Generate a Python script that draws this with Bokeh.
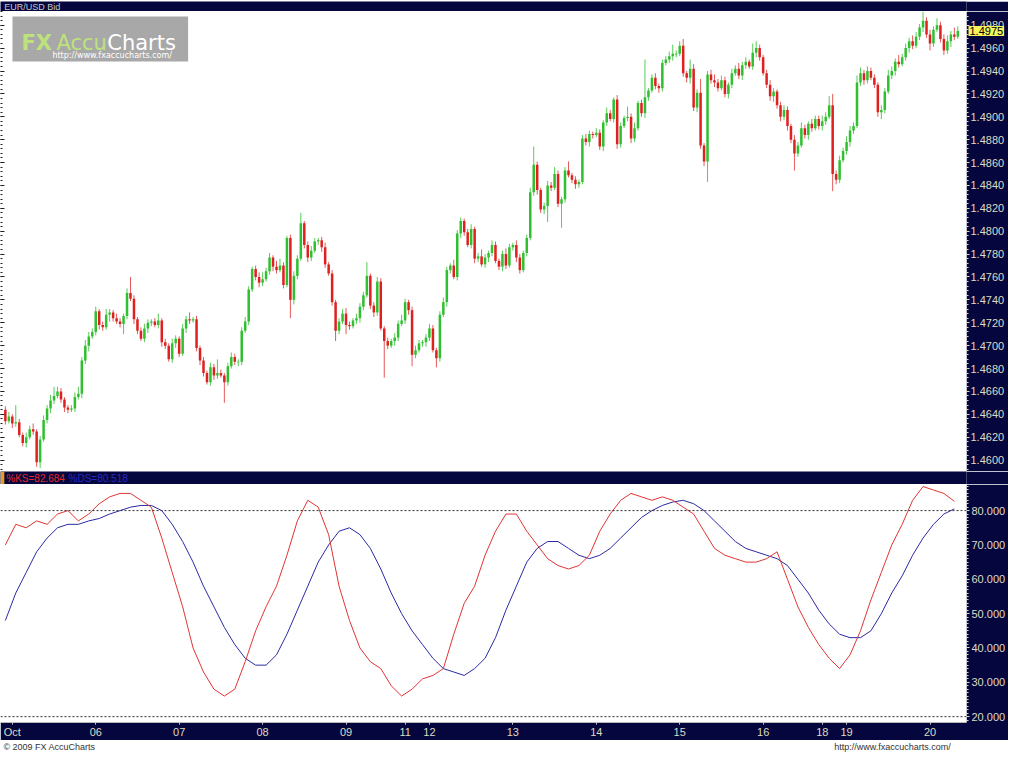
import numpy as np
from bokeh.plotting import figure
from bokeh.layouts import column
from bokeh.models import (Range1d, SingleIntervalTicker, FixedTicker, NumeralTickFormatter,
                          Span, Label, BoxAnnotation, ColumnDataSource, LinearAxis,
                          CustomJSTickFormatter)
from bokeh.core.properties import value
from bokeh.embed import file_html
from bokeh.resources import INLINE

# ---------------- data ----------------
symbol = "EUR/USD Bid"
base_price = 1.4600
first_open_pips = 44
# hourly closes, in pips above 1.4600
closes_pips = [
    34, 38, 32, 33, 22, 15, 20, 27, 25, -2, 18, 35, 45, 52, 56, 60, 53, 46, 44, 45, 55, 58, 87, 100, 108,
    112, 130, 118, 116, 127, 129, 124, 121, 119, 126, 146, 141, 123, 113, 106, 115, 120, 121, 118, 122, 103, 100, 88, 102, 106,
    93, 115, 123, 122, 123, 98, 87, 76, 68, 81, 74, 76, 74, 68, 82, 90, 86, 86, 113, 121, 149, 167, 160, 155, 158,
    165, 177, 169, 166, 170, 153, 194, 140, 161, 176, 207, 188, 177, 183, 191, 192, 186, 171, 163, 138, 113, 121, 128, 118, 117,
    122, 124, 134, 144, 161, 135, 129, 156, 115, 104, 100, 104, 107, 119, 122, 138, 131, 92, 96, 102, 103, 107, 115, 96, 89,
    127, 138, 166, 170, 160, 198, 209, 199, 188, 202, 176, 178, 171, 177, 181, 188, 174, 169, 180, 170, 186, 188, 177, 166, 181,
    194, 234, 258, 236, 219, 222, 240, 238, 250, 224, 228, 253, 249, 245, 241, 243, 281, 278, 285, 284, 286, 274, 295, 303, 298,
    315, 276, 292, 299, 300, 281, 290, 312, 303, 317, 323, 334, 327, 325, 347, 350, 353, 355, 355, 362, 338, 334, 342, 308, 321,
    275, 261, 337, 332, 330, 325, 332, 320, 328, 338, 342, 336, 345, 348, 344, 356, 360, 352, 338, 328, 318, 322, 310, 300, 306,
    292, 280, 268, 275, 290, 284, 294, 290, 298, 292, 296, 300, 310, 250, 245, 262, 270, 278, 288, 292, 330, 338, 332, 340, 334,
    328, 304, 306, 322, 336, 340, 348, 346, 352, 360, 366, 362, 370, 378, 384, 372, 364, 376, 380, 368, 358, 366, 372, 370, 375,
]
up_wick_pips = [
    3, 4, 2, 15, 3, 2, 4, 3, 5, 2, 3, 4, 3, 5, 8, 4, 3, 2, 2, 3, 4, 6, 3, 5, 4,
    3, 4, 2, 3, 5, 3, 2, 4, 3, 2, 4, 14, 3, 2, 3, 4, 3, 2, 3, 6, 2, 3, 2, 4, 3,
    2, 4, 3, 6, 2, 3, 2, 3, 2, 4, 3, 12, 3, 2, 3, 4, 3, 2, 3, 4, 3, 2, 3, 4, 6,
    3, 4, 2, 5, 6, 3, 2, 3, 4, 3, 9, 2, 3, 4, 3, 2, 3, 4, 2, 3, 2, 3, 4, 5, 3,
    2, 4, 3, 3, 12, 2, 3, 4, 3, 2, 3, 2, 4, 3, 5, 3, 2, 3, 4, 3, 2, 3, 4, 3, 2,
    3, 4, 3, 2, 5, 3, 3, 2, 3, 4, 2, 3, 6, 3, 2, 4, 3, 2, 3, 5, 3, 2, 4, 3, 2,
    3, 4, 16, 3, 2, 3, 4, 3, 6, 3, 2, 3, 8, 2, 3, 2, 3, 4, 3, 2, 4, 3, 2, 5, 3,
    2, 4, 3, 2, 9, 3, 5, 2, 3, 33, 2, 3, 4, 2, 3, 3, 4, 8, 3, 4, 6, 2, 8, 4, 3,
    12, 2, 3, 4, 5, 3, 4, 3, 2, 4, 3, 5, 3, 4, 2, 8, 6, 3, 2, 3, 4, 3, 2, 3, 4,
    3, 2, 4, 3, 5, 3, 2, 4, 3, 3, 5, 4, 8, 10, 3, 4, 3, 5, 4, 3, 6, 5, 3, 4, 3,
    3, 2, 4, 3, 5, 4, 3, 6, 3, 4, 3, 5, 4, 3, 8, 3, 4, 3, 6, 3, 4, 5, 3, 6, 4,
]
down_wick_pips = [
    3, 2, 4, 3, 2, 3, 4, 2, 3, 4, 5, 2, 3, 4, 3, 2, 3, 4, 3, 2, 3, 2, 4, 3, 5,
    2, 3, 4, 3, 2, 6, 3, 2, 3, 9, 3, 2, 4, 3, 2, 3, 4, 3, 2, 3, 4, 3, 2, 3, 4,
    3, 2, 4, 3, 2, 3, 4, 3, 2, 3, 4, 3, 2, 18, 3, 2, 3, 4, 3, 2, 3, 2, 3, 4, 3,
    2, 3, 4, 3, 2, 3, 2, 16, 4, 3, 2, 3, 4, 3, 2, 3, 4, 3, 2, 3, 9, 3, 2, 8, 3,
    2, 3, 4, 3, 2, 3, 4, 3, 2, 32, 3, 2, 4, 3, 2, 3, 4, 10, 3, 2, 3, 4, 3, 2, 8,
    3, 2, 4, 3, 2, 3, 4, 3, 2, 3, 4, 3, 2, 3, 4, 3, 2, 3, 4, 3, 2, 3, 4, 3, 2,
    3, 2, 3, 4, 3, 4, 14, 3, 2, 3, 21, 3, 2, 3, 4, 3, 2, 3, 4, 3, 2, 3, 4, 3, 2,
    3, 4, 3, 2, 3, 4, 3, 2, 3, 4, 3, 2, 3, 4, 3, 2, 3, 4, 3, 2, 3, 4, 5, 3, 4,
    3, 4, 18, 3, 4, 3, 2, 3, 4, 3, 2, 3, 4, 3, 2, 3, 4, 3, 2, 3, 4, 5, 3, 4, 3,
    4, 3, 15, 3, 2, 3, 4, 3, 2, 3, 4, 3, 2, 15, 4, 3, 2, 3, 4, 3, 2, 3, 4, 3, 2,
    3, 4, 6, 3, 2, 3, 4, 3, 2, 3, 4, 3, 2, 3, 4, 3, 6, 3, 2, 3, 4, 3, 5, 3, 2,
]
# slow stochastic, read every 3rd bar
stoch_step = 3
k_values = [
    70, 76, 75, 77, 76, 79, 80, 77, 79, 82,
    84, 85, 85, 83, 81, 72, 62, 52, 40, 33,
    28, 26, 28, 36, 45, 52, 58, 67, 77, 83,
    81, 73, 58, 48, 40, 36, 34, 29, 26, 28,
    31, 32, 34, 44, 53, 58, 67, 74, 79, 79,
    74, 70, 66, 64, 63, 64, 67, 74, 79, 83,
    85, 84, 83, 84, 83, 81, 79, 74, 69, 67,
    66, 65, 65, 66, 68, 60, 52, 46, 41, 37,
    34, 38, 45, 54, 62, 70, 76, 83, 87, 86,
    85, 82.7,
]
d_values = [
    48, 56, 62, 68, 72, 75, 76, 76, 77, 77.7,
    79, 80, 81, 81.5, 81.5, 80, 76, 71, 65, 58,
    52, 46, 41, 37, 35, 35, 38, 44, 51, 58,
    65, 70, 74, 75, 73, 69, 63, 56, 50, 45,
    41, 37, 34, 33, 32, 34, 37, 43, 51, 58,
    65, 69, 71, 71, 69, 67, 66, 67, 69, 72,
    75, 78, 80, 81.5, 82.5, 83, 82, 80, 77, 74,
    71, 69, 68, 67, 66, 64, 60, 56, 51, 47,
    44, 43, 43, 45, 50, 56, 61, 67, 72, 76,
    79, 80.5,
]
k_label = "%KS=82.684"
d_label = "%DS=80.518"
last_price = 1.4975
last_price_label = "1.4975"
day_tick_pos = [2, 26, 50, 74, 98, 115, 122, 146, 170, 194, 218, 235, 242, 266]
day_tick_labels = ["Oct", "06", "07", "08", "09", "11", "12", "13", "14", "15", "16", "18", "19", "20"]
stoch_levels = [80, 20]

# ---------------- style ----------------
NAVY = "#06063e"
AXIS_TXT = "#dcdcc2"
GREEN = "#2fbf2f"
RED = "#e01f1f"
GREEN_W = "#55cc55"
RED_W = "#e45a5a"
FONT = "Liberation Sans"
W = 1008
AXW = 40
XR = (-1.4, 276.5)
YR = (1.4590, 1.4992)
TITLE_H = 11
MAIN_H = 460
BAND_H = 13
STO_H = 256
FOOT_H = 12
FRAME_W = W - AXW
UNIT = (XR[1] - XR[0]) / FRAME_W


def xpx(px):
    return XR[0] + px * UNIT


def ypx(px):
    return YR[1] - px * (YR[1] - YR[0]) / MAIN_H


n = len(closes_pips)
idx = np.arange(n)
close = base_price + np.array(closes_pips) / 10000.0
open_ = np.concatenate([[base_price + first_open_pips / 10000.0], close[:-1]])
top = np.maximum(open_, close)
bot = np.minimum(np.minimum(open_, close), top - 0.00005)
high = top + np.array(up_wick_pips) / 10000.0
low = np.minimum(open_, close) - np.array(down_wick_pips) / 10000.0
rising = close >= open_
src = ColumnDataSource(dict(
    x=idx, top=top, bot=bot, high=high, low=low,
    color=np.where(rising, GREEN, RED), wcolor=np.where(rising, GREEN_W, RED_W)))

# ---------------- title band ----------------
t = figure(width=W, height=TITLE_H, x_range=Range1d(0, W), y_range=Range1d(0, TITLE_H),
           toolbar_location=None, output_backend="svg", min_border=0,
           x_axis_type=None, y_axis_type=None, background_fill_color=NAVY,
           border_fill_color=NAVY, outline_line_color=None)
t.text(x=[4], y=[TITLE_H / 2], text=[symbol], text_font=value(FONT), text_font_size="9px",
       text_color="#c8c8c8", text_baseline="middle")

# ---------------- price panel ----------------
p = figure(width=W, height=MAIN_H, x_range=Range1d(*XR), y_range=Range1d(*YR),
           toolbar_location=None, output_backend="svg",
           min_border=0, min_border_right=AXW, border_fill_color=NAVY,
           background_fill_color="white", outline_line_color=None,
           x_axis_type=None, y_axis_type=None)
p.segment(x0="x", y0="low", x1="x", y1="high", line_color="wcolor", line_width=1, source=src)
p.vbar(x="x", width=0.72, top="top", bottom="bot", fill_color="color", line_color=None, source=src)

price_ticker = SingleIntervalTicker(interval=0.002, num_minor_ticks=5)
blank = CustomJSTickFormatter(code="return ''")

# right side, from the frame outwards: ticks, last-price marker, tick labels
tick_ax = LinearAxis(ticker=price_ticker, formatter=blank, axis_line_color=None,
                     major_tick_in=0, major_tick_out=3, minor_tick_in=0, minor_tick_out=2,
                     major_tick_line_color=AXIS_TXT, minor_tick_line_color=AXIS_TXT,
                     major_label_standoff=0)
p.add_layout(tick_ax, "right")
mk = dict(x=XR[1], y=last_price, x_offset=2, text=last_price_label,
          text_font=FONT, text_font_size="11px", text_color="black",
          text_baseline="middle", text_align="left",
          background_fill_color="#f4f45c", background_fill_alpha=1.0)
if "padding" in Label.properties():
    mk["padding"] = 1
p.add_layout(Label(**mk), "right")
lab_ax = LinearAxis(ticker=price_ticker, formatter=NumeralTickFormatter(format="0.0000"),
                    axis_line_color=None, major_tick_in=0, major_tick_out=0,
                    minor_tick_in=0, minor_tick_out=0, major_label_standoff=-35,
                    major_label_text_color=AXIS_TXT, major_label_text_font=FONT,
                    major_label_text_font_size="11px")
p.add_layout(lab_ax, "right")

# small inner ticks along the left edge
lax = LinearAxis(ticker=price_ticker, formatter=blank,
                 axis_line_color=None, major_tick_in=4, major_tick_out=0,
                 minor_tick_in=2, minor_tick_out=0, major_label_standoff=0,
                 major_tick_line_color="#222222", minor_tick_line_color="#222222")
p.add_layout(lax, "left")

# logo
p.add_layout(BoxAnnotation(left=xpx(12), right=xpx(188), top=ypx(5), bottom=ypx(50),
                           fill_color="#a8a8a8", fill_alpha=1.0, line_color=None))
p.add_layout(Label(x=xpx(21), y=ypx(31), text="FX", text_font="DejaVu Sans", text_font_style="bold",
                   text_font_size="21px", text_color="#bde27c", text_baseline="alphabetic"))
p.add_layout(Label(x=xpx(56), y=ypx(31), text="Accu", text_font="DejaVu Sans",
                   text_font_size="21px", text_color="#bde27c", text_baseline="alphabetic"))
p.add_layout(Label(x=xpx(107), y=ypx(31), text="Charts", text_font="DejaVu Sans",
                   text_font_size="21px", text_color="white", text_baseline="alphabetic"))
p.add_layout(Label(x=xpx(52), y=ypx(44), text="http://www.fxaccucharts.com/", text_font="DejaVu Sans",
                   text_font_size="8px", text_color="white", text_baseline="alphabetic"))

# ---------------- indicator label band ----------------
b = figure(width=W, height=BAND_H, x_range=Range1d(0, W), y_range=Range1d(0, BAND_H),
           toolbar_location=None, output_backend="svg", min_border=0,
           x_axis_type=None, y_axis_type=None, background_fill_color=NAVY,
           border_fill_color=NAVY, outline_line_color=None)
b.quad(left=[0], right=[4], bottom=[0], top=[BAND_H], fill_color="#e89a2a", line_color=None)
b.text(x=[6], y=[BAND_H / 2], text=[k_label], text_font=value(FONT), text_font_size="10px",
       text_color="#e82828", text_baseline="middle")
b.text(x=[71], y=[BAND_H / 2], text=[d_label], text_font=value(FONT), text_font_size="10px",
       text_color="#2828c8", text_baseline="middle")

# ---------------- stochastic panel ----------------
q = figure(width=W, height=STO_H, x_range=p.x_range, y_range=Range1d(18.3, 87.6),
           y_axis_location="right", toolbar_location=None, output_backend="svg",
           min_border=0, min_border_right=AXW, min_border_bottom=16, border_fill_color=NAVY,
           background_fill_color="white", outline_line_color=None)
q.grid.visible = False
for lvl in stoch_levels:
    q.add_layout(Span(location=lvl, dimension="width", line_color="#303030",
                      line_dash="2 2", line_width=1))
sx = [i * stoch_step for i in range(len(k_values))]
q.line(x=sx, y=d_values, line_color="#2a2aa6", line_width=1)
q.line(x=sx, y=k_values, line_color="#e03434", line_width=1)

qy = q.yaxis[0]
qy.ticker = SingleIntervalTicker(interval=10, num_minor_ticks=10)
qy.formatter = NumeralTickFormatter(format="0.000")
qy.major_label_text_color = AXIS_TXT
qy.major_label_text_font = FONT
qy.major_label_text_font_size = "11px"
qy.axis_line_color = None
qy.major_tick_line_color = AXIS_TXT
qy.major_tick_in = 0
qy.major_tick_out = 3
qy.minor_tick_line_color = AXIS_TXT
qy.minor_tick_in = 0
qy.minor_tick_out = 2
qy.major_label_standoff = 2

qx = q.xaxis[0]
qx.ticker = FixedTicker(ticks=day_tick_pos)
qx.major_label_overrides = {pos: lab for pos, lab in zip(day_tick_pos, day_tick_labels)}
qx.major_label_text_color = AXIS_TXT
qx.major_label_text_font = FONT
qx.major_label_text_font_size = "11px"
qx.axis_line_color = "#b8b8b8"
qx.major_tick_line_color = "#d0d0d0"
qx.major_tick_in = 0
qx.major_tick_out = 2
qx.minor_tick_line_color = None
qx.major_label_standoff = 1

# ---------------- footer ----------------
f = figure(width=W, height=FOOT_H, x_range=Range1d(0, W), y_range=Range1d(0, FOOT_H),
           toolbar_location=None, output_backend="svg", min_border=0,
           x_axis_type=None, y_axis_type=None, background_fill_color="white",
           border_fill_color="white", outline_line_color=None)
f.text(x=[3], y=[FOOT_H / 2], text=["© 2009 FX AccuCharts"], text_font=value(FONT), text_font_size="9px",
       text_color="#333333", text_baseline="middle")
f.text(x=[870], y=[FOOT_H / 2], text=["http://www.fxaccucharts.com/"], text_font=value(FONT),
       text_font_size="9px", text_color="#333333", text_baseline="middle")

layout = column(t, p, b, q, f, spacing=0)
open("out.html", "w").write(file_html(layout, INLINE))
